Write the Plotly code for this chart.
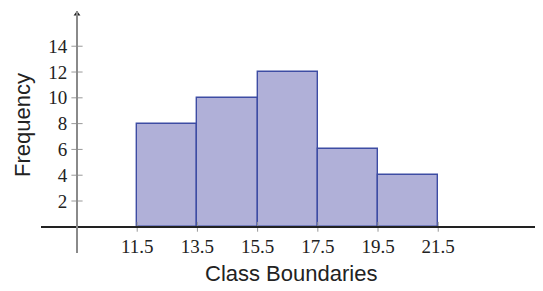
import plotly.graph_objects as go

# Data
boundaries = [11.5, 13.5, 15.5, 17.5, 19.5, 21.5]
frequencies = [8, 10, 12, 6, 4]
y_ticks = [2, 4, 6, 8, 10, 12, 14]
x_tick_labels = ["11.5", "13.5", "15.5", "17.5", "19.5", "21.5"]

centers = [(a + b) / 2 for a, b in zip(boundaries[:-1], boundaries[1:])]
widths = [b - a for a, b in zip(boundaries[:-1], boundaries[1:])]

X0, X1 = 8.304, 24.98
Y0, Y1 = -2.03, 16.73
YAX = 9.5  # x where the y-axis crosses

serif = "Liberation Serif, DejaVu Serif, serif"
sans = "Liberation Sans, Arial, sans-serif"

fig = go.Figure()
fig.add_trace(go.Bar(
    x=centers, y=frequencies, width=widths,
    marker=dict(color="#B0B0D8", line=dict(color="#3D4CA3", width=1.4)),
    hoverinfo="skip", showlegend=False,
))
# crossing tick marks on y axis
fig.add_trace(go.Scatter(
    x=[YAX] * len(y_ticks), y=y_ticks, mode="markers",
    marker=dict(symbol="line-ew", size=8, line=dict(color="#999999", width=1)),
    hoverinfo="skip", showlegend=False, cliponaxis=False,
))
# small tick marks on x axis
fig.add_trace(go.Scatter(
    x=boundaries, y=[0] * len(boundaries), mode="markers",
    marker=dict(symbol="line-ns", size=7, line=dict(color="#999999", width=1)),
    hoverinfo="skip", showlegend=False, cliponaxis=False,
))
# arrow head at top of y axis
fig.add_trace(go.Scatter(
    x=[YAX], y=[Y1 - 3 / 12.9], mode="markers",
    marker=dict(symbol="triangle-up", size=6, color="#222222"),
    hoverinfo="skip", showlegend=False, cliponaxis=False,
))

xpos = (0 - Y0) / (Y1 - Y0)
ypos = (YAX - X0) / (X1 - X0)

fig.update_layout(
    width=535, height=283,
    margin=dict(l=33, r=0, t=3, b=38),
    paper_bgcolor="white", plot_bgcolor="white",
    bargap=0,
    xaxis=dict(
        range=[X0, X1], anchor="free", position=xpos,
        showline=True, linecolor="#222222", linewidth=1.5,
        showgrid=False, zeroline=False,
        tickmode="array", tickvals=boundaries, ticktext=x_tick_labels,
        ticks="", ticklabelstandoff=3,
        tickfont=dict(family=serif, size=19, color="#222222"),
    ),
    yaxis=dict(
        range=[Y0, Y1], anchor="free", position=ypos,
        showline=True, linecolor="#8a8a8a", linewidth=2,
        showgrid=False, zeroline=False,
        tickmode="array", tickvals=y_ticks,
        ticks="", ticklabelstandoff=5,
        tickfont=dict(family=serif, size=19, color="#222222"),
    ),
    annotations=[
        dict(text="Class Boundaries", xref="paper", yref="paper",
             x=(291 - 41) / 502, y=(253 - 273) / 242, showarrow=False,
             xanchor="center", yanchor="middle",
             font=dict(family=sans, size=22, color="#222222")),
        dict(text="Frequency", xref="paper", yref="paper",
             x=(22 - 41) / 502, y=(253 - 125) / 242, showarrow=False,
             textangle=-90, xanchor="center", yanchor="middle",
             font=dict(family=sans, size=22, color="#222222")),
    ],
)

fig.write_html("out.html")
